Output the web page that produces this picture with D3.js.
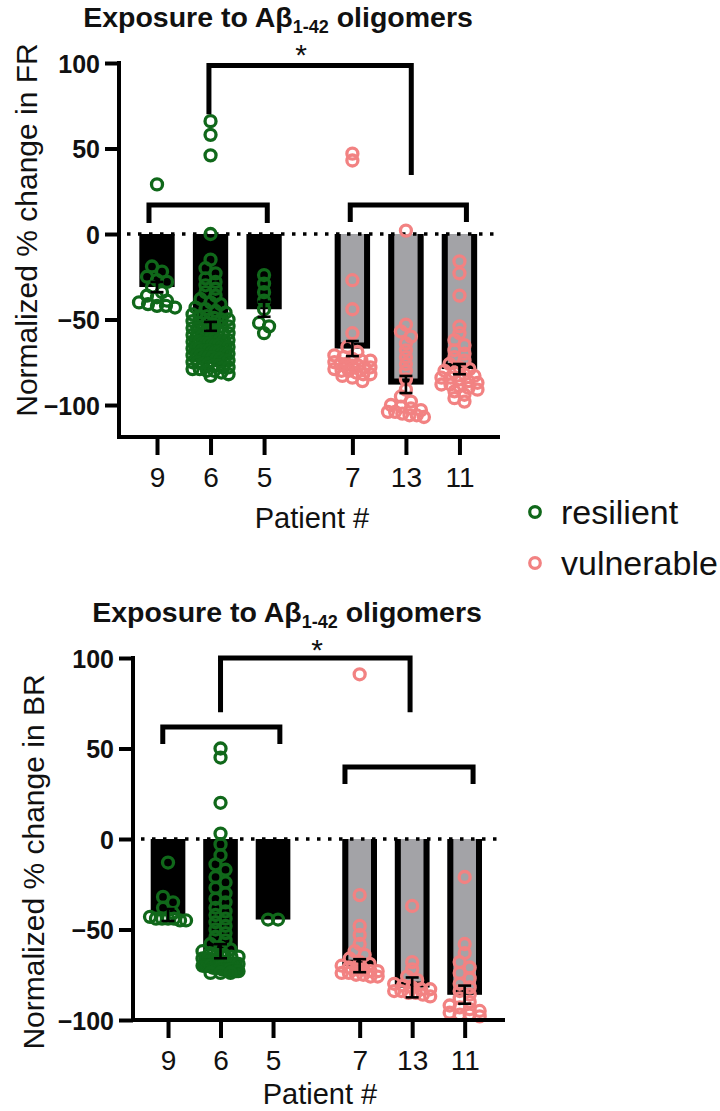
<!DOCTYPE html>
<html><head><meta charset="utf-8">
<script src="https://cdn.jsdelivr.net/npm/d3@7"></script>
<style>
body{margin:0;background:#fff}
svg{display:block}
text{font-family:"Liberation Sans",Arial,Helvetica,sans-serif;fill:#111}
</style>
</head><body>
<svg id="c" width="720" height="1111"></svg>
<script>
// ---------- DATA ----------
const patients = ["9","6","5","7","13","11"];
const positions = [0,1,2,3.65,4.65,5.65];
const groups = ["resilient","resilient","resilient","vulnerable","vulnerable","vulnerable"];
const legendLabels = ["resilient","vulnerable"];
const yTicks = [-100,-50,0,50,100];

// Top panel: FR
const frMeans = [-31,-54,-44,-67,-88,-79];
const frSEM   = [3,2.6,4.4,4.4,5,3];
const frPoints = [
  [29,-19,-22,-25,-27,-28,-31,-34,-36,-37,-39,-40,-41,-42,-42,-43],
  [66,58,46,0,-15,-20,-23,-26,-28,-30,-32,-34,-36,-38,-40,-41,-43,-44,-45,-46,-47,-48,-49,-50,-51,-52,-53,-54,-55,-55,-56,-57,-58,-58,-59,-60,-60,-61,-62,-62,-63,-63,-64,-64,-65,-65,-66,-66,-67,-67,-68,-68,-69,-69,-70,-70,-71,-71,-72,-72,-73,-74,-75,-76,-77,-78,-79,-80,-81,-83,
   -48,-50,-52,-54,-56,-57,-59,-61,-62,-63,-64,-65,-66,-67,-68,-69,-70,-71,-72,-73,-74,-75,-76,-77,-78,-79,-80,-82],
  [-24,-29,-34,-39,-44,-52,-54,-58],
  [47,43,-27,-44,-58,-66,-69,-71,-72,-73,-74,-75,-76,-76,-77,-78,-78,-79,-80,-81,-82,-83,-84,-86,-74,-77,-80,-82],
  [2,-53,-57,-60,-64,-68,-72,-76,-80,-85,-91,-95,-98,-100,-101,-102,-103,-104,-105,-106,-107,-104,-106],
  [-16,-23,-36,-54,-58,-62,-65,-68,-70,-72,-74,-76,-78,-79,-80,-81,-82,-83,-84,-85,-86,-87,-88,-89,-90,-91,-92,-94,-96,-98,-84,-88]
];
const frBrackets = [
  {x1:0.97, x2:4.75, top:98.5, end1:70, end2:34.5},
  {x1:-0.15, x2:2.06, top:17, end1:6.5, end2:6.5},
  {x1:3.61, x2:5.78, top:17, end1:7, end2:7}
];
const frStar = {x:2.69, y:108.8, label:"*"};

// Bottom panel: BR
const brMeans = [-42,-62,-44.5,-70,-82,-86];
const brSEM   = [3.3,3.9,0,3.6,5.5,5];
const brPoints = [
  [-13,-32,-35,-38,-41,-43,-44,-44,-44,-44,-45,-45],
  [50,45,20,3,-3,-9,-14,-17,-21,-24,-27,-30,-33,-35,-38,-40,-42,-44,-46,-48,-50,-52,-54,-56,-58,-60,-61,-62,-63,-64,-65,-65,-66,-66,-67,-67,-68,-68,-68,-69,-69,-69,-70,-70,-70,-70,-71,-71,-71,-71,-72,-72,-72,-72,-73,-73,-73,-74,
   -64,-66,-67,-68,-69,-70,-70,-71,-71,-72,-72,-73,-73,-74,-74],
  [-44.5,-44.5],
  [91,-31,-48,-53,-58,-62,-64,-66,-68,-69,-70,-71,-72,-72,-73,-73,-74,-74,-75,-75,-76,-76],
  [-37,-68,-72,-76,-78,-80,-81,-82,-83,-83,-84,-84,-85,-85,-86,-87],
  [-21,-58,-63,-68,-71,-74,-77,-80,-82,-84,-86,-88,-90,-92,-93,-94,-95,-96,-97,-97,-98]
];
const brBrackets = [
  {x1:1.0, x2:4.61, top:100, end1:70, end2:70},
  {x1:-0.1, x2:2.13, top:61.9, end1:52.5, end2:52.5},
  {x1:3.37, x2:5.81, top:39.8, end1:30.4, end2:30.4}
];
const brStar = {x:2.84, y:108.3, label:"*"};

// ---------- STYLE / LAYOUT ----------
const colors = {resilient:"#10681a", vulnerable:"#f28282"};
const barFill = {resilient:"#000", vulnerable:"#a3a3a7"};

const panels = [
  {means:frMeans, sem:frSEM, points:frPoints, brackets:frBrackets, star:frStar,
   ylabel:"Normalized % change in FR",
   xDom:[-0.71,6.37], xRange:[119,498], yDom:[-118.7,100], yRange:[437,63],
   titleX:278, titleY:27, ylabX:26, ylabY:230, xlabX:312, xlabY:528},
  {means:brMeans, sem:brSEM, points:brPoints, brackets:brBrackets, star:brStar,
   ylabel:"Normalized % change in BR",
   xDom:[-0.667,6.38], xRange:[133,503], yDom:[-100,100], yRange:[1020,658],
   titleX:287, titleY:622, ylabX:33, ylabY:862, xlabX:320, xlabY:1104}
];

const svg = d3.select("#c");

function swarm(vals, y){
  const pts = vals.map(v=>({v, py:y(v)})).sort((a,b)=>a.py-b.py);
  const rows=[]; let cur=null;
  pts.forEach(p=>{
    if(!cur || p.py-cur.start>6){cur={start:p.py,items:[]};rows.push(cur);}
    cur.items.push(p);
  });
  rows.forEach(r=>{
    const n=r.items.length;
    const sp = n>1 ? Math.min(10, 36/(n-1)) : 0;
    r.items.forEach((p,i)=>{p.dx=(i-(n-1)/2)*sp;});
  });
  return pts;
}

panels.forEach(P=>{
  const g = svg.append("g");
  const x = d3.scaleLinear().domain(P.xDom).range(P.xRange);
  const y = d3.scaleLinear().domain(P.yDom).range(P.yRange);
  const unit = x(1)-x(0);
  const bw = unit*0.66;

  // title
  const t = g.append("text").attr("x",P.titleX).attr("y",P.titleY)
    .attr("text-anchor","middle").style("font-weight","bold").style("font-size","28.5px");
  t.append("tspan").text("Exposure to Aβ");
  t.append("tspan").attr("dy",6).style("font-size","18px").text("1-42");
  t.append("tspan").attr("dy",-6).text(" oligomers");

  // bars
  patients.forEach((p,i)=>{
    const cx = x(positions[i]);
    const m = P.means[i];
    const grp = groups[i];
    g.append("rect").attr("x",cx-bw/2).attr("width",bw)
      .attr("y",y(0)).attr("height",y(m)-y(0)).attr("fill",barFill[grp]);
    if(grp==="vulnerable"){
      const sw=6, h=sw/2;
      g.append("path")
        .attr("d",`M${cx-bw/2+h},${y(0)} V${y(m)-h} H${cx+bw/2-h} V${y(0)}`)
        .attr("fill","none").attr("stroke","#000").attr("stroke-width",sw);
    }
  });

  // zero dotted line
  g.append("line").attr("x1",P.xRange[0]+8).attr("x2",P.xRange[1])
    .attr("y1",y(0)).attr("y2",y(0))
    .attr("stroke","#000").attr("stroke-width",3.5).attr("stroke-dasharray","3.5 7.5");

  // points
  patients.forEach((p,i)=>{
    const cx = x(positions[i]);
    const pts = swarm(P.points[i], y);
    g.append("g").selectAll("circle").data(pts).join("circle")
      .attr("cx",d=>cx+d.dx).attr("cy",d=>d.py).attr("r",5.5)
      .attr("fill","none").attr("stroke",colors[groups[i]]).attr("stroke-width",3.3);
  });

  // error bars
  patients.forEach((p,i)=>{
    const s=P.sem[i]; if(!s) return;
    const cx = x(positions[i]); const m=P.means[i];
    const eg = g.append("g").attr("stroke","#000").attr("stroke-width",2.6);
    eg.append("line").attr("x1",cx).attr("x2",cx).attr("y1",y(m+s)).attr("y2",y(m-s));
    eg.append("line").attr("x1",cx-6.5).attr("x2",cx+6.5).attr("y1",y(m+s)).attr("y2",y(m+s));
    eg.append("line").attr("x1",cx-6.5).attr("x2",cx+6.5).attr("y1",y(m-s)).attr("y2",y(m-s));
  });

  // axes
  const ya = d3.axisLeft(y).tickValues(yTicks).tickSize(14).tickPadding(5);
  const yg = g.append("g").attr("transform",`translate(${P.xRange[0]},0)`).call(ya);
  yg.select(".domain").remove();
  yg.selectAll(".tick line").attr("stroke","#000").attr("stroke-width",4);
  yg.selectAll(".tick text").style("font-size","25px").style("font-weight","bold")
    .attr("fill","#111").attr("dy","0.36em");

  const xa = d3.axisBottom(x).tickValues(positions).tickFormat((d,i)=>patients[i]).tickSize(18).tickPadding(12);
  const xg = g.append("g").attr("transform",`translate(0,${P.yRange[0]})`).call(xa);
  xg.select(".domain").remove();
  xg.selectAll(".tick line").attr("stroke","#000").attr("stroke-width",4);
  xg.selectAll(".tick text").style("font-size","28px").attr("fill","#111");

  g.append("path")
    .attr("d",`M${P.xRange[0]},${y(100)} V${P.yRange[0]} H${P.xRange[1]}`)
    .attr("fill","none").attr("stroke","#000").attr("stroke-width",4).attr("stroke-linecap","square");

  // axis labels
  g.append("text").attr("x",P.xlabX).attr("y",P.xlabY).attr("text-anchor","middle")
    .style("font-size","29px").text("Patient #");
  g.append("text").attr("transform",`translate(${P.ylabX},${P.ylabY}) rotate(-90)`)
    .attr("text-anchor","middle").attr("dy","0.35em").style("font-size","30px").text(P.ylabel);

  // brackets
  P.brackets.forEach(b=>{
    g.append("path")
      .attr("d",`M${x(b.x1)},${y(b.end1)} V${y(b.top)} H${x(b.x2)} V${y(b.end2)}`)
      .attr("fill","none").attr("stroke","#000").attr("stroke-width",5);
  });
  g.append("text").attr("x",x(P.star.x)).attr("y",y(P.star.y)+17)
    .attr("text-anchor","middle").style("font-size","30px").text(P.star.label);
});

// legend
const lg = svg.append("g");
legendLabels.forEach((k,i)=>{
  const cy = [512,563][i];
  lg.append("circle").attr("cx",535).attr("cy",cy).attr("r",5.3)
    .attr("fill","none").attr("stroke",colors[k]).attr("stroke-width",3.2);
  lg.append("text").attr("x",561).attr("y",cy+12).style("font-size","34px").text(k);
});
</script>
</body></html>
